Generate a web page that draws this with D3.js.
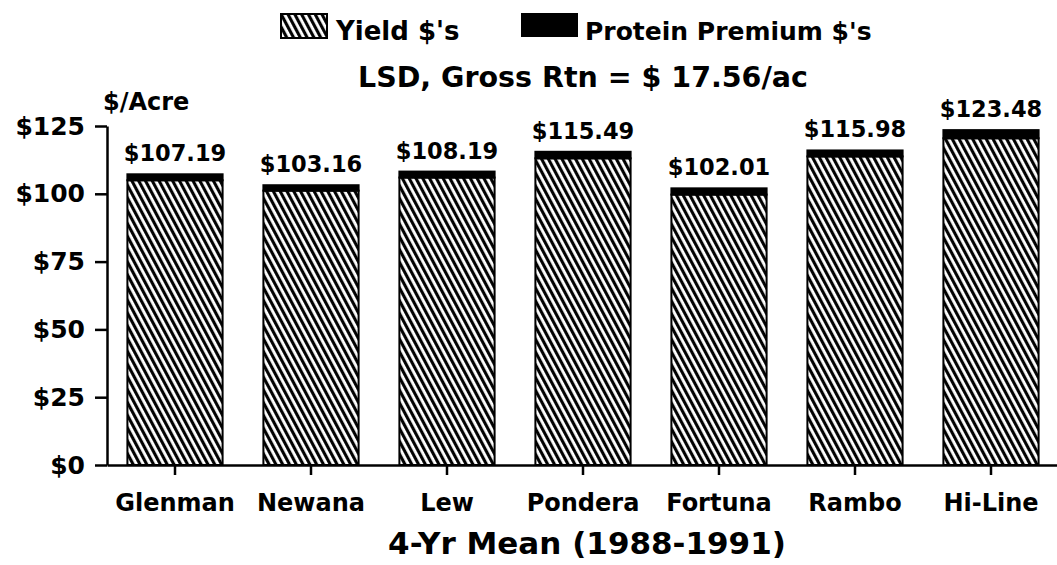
<!DOCTYPE html>
<html>
<head>
<meta charset="utf-8">
<script src="https://cdn.jsdelivr.net/npm/d3@7"></script>
<style>
  body { margin: 0; background: #fff; }
  svg text { font-family: "DejaVu Sans", sans-serif; font-weight: bold; fill: #000; }
</style>
</head>
<body>
<div id="chart"></div>
<script>
// values
const varieties = ["Glenman", "Newana", "Lew", "Pondera", "Fortuna", "Rambo", "Hi-Line"];
const totals = [107.19, 103.16, 108.19, 115.49, 102.01, 115.98, 123.48];
const proteinPremium = [2.2, 2.0, 2.2, 2.4, 2.3, 2.2, 3.0];
const yieldDollars = [104.99, 101.16, 105.99, 113.09, 99.71, 113.78, 120.48];
const yTicks = [0, 25, 50, 75, 100, 125];

const width = 1057, height = 565;
const svg = d3.select("#chart").append("svg")
  .attr("width", width)
  .attr("height", height);

// diagonal hatch like the old plotter fill
const defs = svg.append("defs");
const pat = defs.append("pattern")
  .attr("id", "hatch")
  .attr("patternUnits", "userSpaceOnUse")
  .attr("width", 6)
  .attr("height", 6)
  .attr("patternTransform", "rotate(-28)");
pat.append("rect").attr("width", 6).attr("height", 6).attr("fill", "#fff");
pat.append("line")
  .attr("x1", 1.6).attr("y1", 0).attr("x2", 1.6).attr("y2", 6)
  .attr("stroke", "#000").attr("stroke-width", 3.1);

const x = d3.scaleBand()
  .domain(varieties)
  .range([107, 1059])
  .paddingInner(0.3)
  .paddingOuter(0.15);

const y = d3.scaleLinear().domain([0, 125]).range([465, 126]);

const data = varieties.map((v, i) => ({
  name: v, yld: yieldDollars[i], prot: proteinPremium[i], total: totals[i]
}));

// bars: hatched yield part, black protein cap on top
const g = svg.append("g");
g.selectAll(".yield")
  .data(data)
  .join("rect")
  .attr("class", "yield")
  .attr("x", d => x(d.name))
  .attr("width", x.bandwidth())
  .attr("y", d => y(d.yld))
  .attr("height", d => y(0) - y(d.yld))
  .attr("fill", "url(#hatch)")
  .attr("stroke", "#000")
  .attr("stroke-width", 2);

g.selectAll(".prot")
  .data(data)
  .join("rect")
  .attr("class", "prot")
  .attr("x", d => x(d.name))
  .attr("width", x.bandwidth())
  .attr("y", d => y(d.total))
  .attr("height", d => y(d.yld) - y(d.total))
  .attr("fill", "#000")
  .attr("stroke", "#000")
  .attr("stroke-width", 2);

g.selectAll(".val")
  .data(data)
  .join("text")
  .attr("class", "val")
  .attr("x", d => x(d.name) + x.bandwidth() / 2)
  .attr("y", d => y(d.total) - 13)
  .attr("text-anchor", "middle")
  .style("font-size", "22.5px")
  .text(d => "$" + d.total.toFixed(2));

// axes
const yAxis = d3.axisLeft(y)
  .tickValues(yTicks)
  .tickSize(12)
  .tickSizeOuter(0)
  .tickPadding(10)
  .tickFormat(d => "$" + d);
const yG = svg.append("g").attr("transform", "translate(107,0)").call(yAxis);
yG.selectAll("path, line").attr("stroke", "#000").attr("stroke-width", 2.5);
yG.selectAll("text").style("font-size", "25px").attr("font-family", null);

const xAxis = d3.axisBottom(x).tickSize(10).tickSizeOuter(0).tickPadding(19);
const xG = svg.append("g").attr("transform", "translate(0,465)").call(xAxis);
xG.selectAll("path, line").attr("stroke", "#000").attr("stroke-width", 2.5);
xG.selectAll("text").style("font-size", "24px").attr("font-family", null);

svg.append("text")
  .attr("x", 103).attr("y", 110)
  .style("font-size", "24px")
  .text("$/Acre");

svg.append("text")
  .attr("x", 587).attr("y", 554)
  .attr("text-anchor", "middle")
  .style("font-size", "31px")
  .text("4-Yr Mean (1988-1991)");

svg.append("text")
  .attr("x", 583).attr("y", 87)
  .attr("text-anchor", "middle")
  .style("font-size", "28.5px")
  .text("LSD, Gross Rtn = $ 17.56/ac");

// legend
const legend = svg.append("g");
legend.append("rect")
  .attr("x", 281).attr("y", 14).attr("width", 46).attr("height", 24)
  .attr("fill", "url(#hatch)").attr("stroke", "#000").attr("stroke-width", 2);
legend.append("text")
  .attr("x", 336).attr("y", 40)
  .style("font-size", "26px")
  .text("Yield $'s");
legend.append("rect")
  .attr("x", 521).attr("y", 13).attr("width", 57).attr("height", 24)
  .attr("fill", "#000");
legend.append("text")
  .attr("x", 585).attr("y", 40)
  .style("font-size", "25px")
  .text("Protein Premium $'s");
</script>
</body>
</html>
